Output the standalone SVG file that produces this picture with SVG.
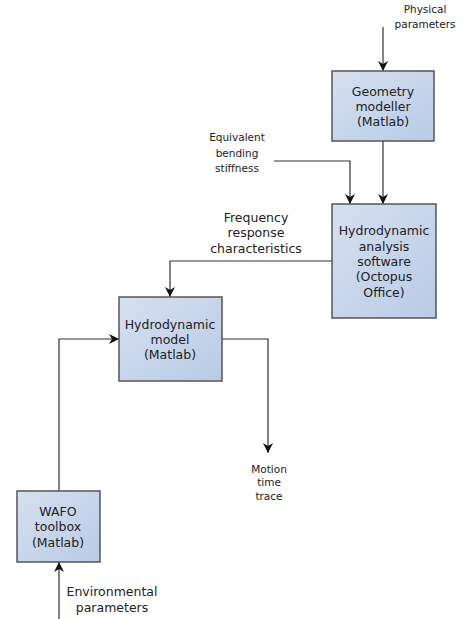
<svg xmlns="http://www.w3.org/2000/svg" width="462" height="619" viewBox="0 0 462 619">
<defs>
<linearGradient id="g" x1="0" y1="0" x2="1" y2="1">
<stop offset="0" stop-color="#d6e0f0"/>
<stop offset="1" stop-color="#b9cbe6"/>
</linearGradient>
<marker id="a" viewBox="0 0 10 10" refX="10" refY="5" markerWidth="10" markerHeight="10" markerUnits="userSpaceOnUse" orient="auto">
<path d="M0,0 L10,5 L0,10 L3,5 Z" fill="#111"/>
</marker>
</defs>
<style>
.box{fill:url(#g);stroke:#555;stroke-width:1.5}
.bt{font-family:"DejaVu Sans",sans-serif;font-size:12.5px;fill:#222;text-anchor:middle}
.lt{font-family:"DejaVu Sans",sans-serif;font-size:10.5px;fill:#222;text-anchor:middle}
.mt{font-family:"DejaVu Sans",sans-serif;font-size:12.5px;fill:#222;text-anchor:middle}
.c{fill:none;stroke:#333;stroke-width:1.2;marker-end:url(#a)}
</style>
<rect width="462" height="619" fill="#fff"/>
<g id="connectors">
<path class="c" d="M383,27 V71"/>
<path class="c" d="M383,141 V204"/>
<path class="c" d="M274,161 H350 V204"/>
<path class="c" d="M332,261 H170 V297"/>
<path class="c" d="M222,339 H268 V453"/>
<path class="c" d="M59,491 V339 H119"/>
<path class="c" d="M59,619 V562"/>
</g>
<g id="geometry">
<rect class="box" x="332" y="71" width="102" height="70"/>
<text class="bt" x="383" y="96">Geometry</text>
<text class="bt" x="383" y="111">modeller</text>
<text class="bt" x="383" y="126">(Matlab)</text>
</g>
<g id="hydroanalysis">
<rect class="box" x="332" y="204" width="104" height="114"/>
<text class="bt" x="384" y="235">Hydrodynamic</text>
<text class="bt" x="384" y="251">analysis</text>
<text class="bt" x="384" y="266">software</text>
<text class="bt" x="384" y="281">(Octopus</text>
<text class="bt" x="384" y="297">Office)</text>
</g>
<g id="hydromodel">
<rect class="box" x="119" y="297" width="103" height="84"/>
<text class="bt" x="170" y="329">Hydrodynamic</text>
<text class="bt" x="170" y="344">model</text>
<text class="bt" x="170" y="359">(Matlab)</text>
</g>
<g id="wafo">
<rect class="box" x="17" y="491" width="83" height="71"/>
<text class="bt" x="58" y="516">WAFO</text>
<text class="bt" x="58" y="531">toolbox</text>
<text class="bt" x="58" y="547">(Matlab)</text>
</g>
<g id="labels">
<text class="lt" x="425" y="13">Physical</text>
<text class="lt" x="425" y="28">parameters</text>
<text class="lt" x="237" y="141">Equivalent</text>
<text class="lt" x="237" y="157">bending</text>
<text class="lt" x="237" y="172">stiffness</text>
<text class="mt" x="256" y="222">Frequency</text>
<text class="mt" x="256" y="237">response</text>
<text class="mt" x="256" y="253">characteristics</text>
<text class="lt" x="269" y="473">Motion</text>
<text class="lt" x="269" y="486">time</text>
<text class="lt" x="269" y="500">trace</text>
<text class="mt" x="112" y="596">Environmental</text>
<text class="mt" x="112" y="612">parameters</text>
</g>
</svg>
